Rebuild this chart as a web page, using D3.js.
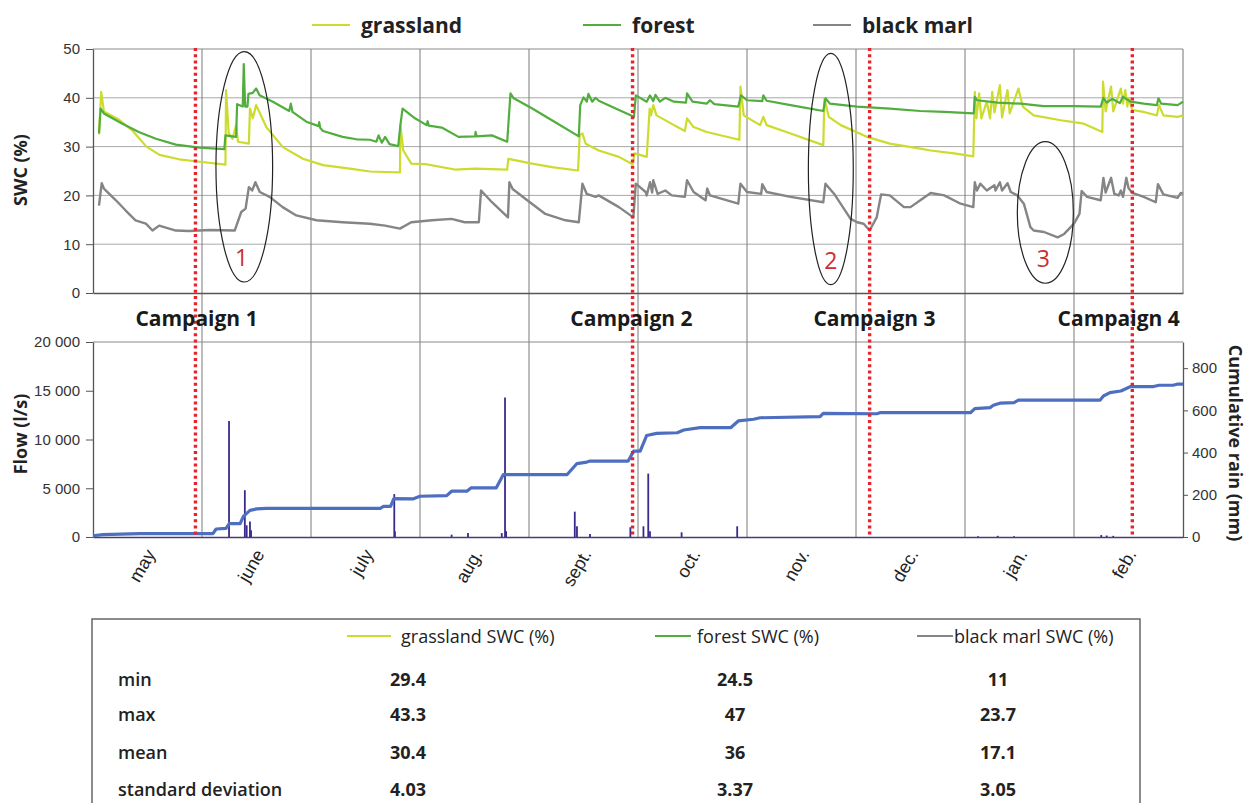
<!DOCTYPE html>
<html>
<head>
<meta charset="utf-8">
<script src="https://cdn.jsdelivr.net/npm/d3@7/dist/d3.min.js"></script>
<style>
  html, body { margin: 0; padding: 0; background: #fff; }
  svg { display: block; font-family: 'Open Sans', 'Noto Sans', sans-serif; }
</style>
</head>
<body>
<svg id="chart" width="1250" height="803"></svg>
<script>
// Soil water content + flow / cumulative rain, May -> Feb
// x values are month positions (0 = start of May, 10 = end of Feb)

const months = ['may', 'june', 'july', 'aug.', 'sept.', 'oct.', 'nov.', 'dec.', 'jan.', 'feb.'];
const swcTicks = [0, 10, 20, 30, 40, 50];
const flowTicks = [0, 5000, 10000, 15000, 20000];
const rainTicks = [0, 200, 400, 600, 800];

const grassland = [
  [0.055, 32.5], [0.075, 41.2], [0.10, 37.2], [0.24, 35.5], [0.365, 33.2], [0.49, 30.0], [0.61, 28.3],
  [0.79, 27.4], [0.98, 26.9], [1.215, 26.3], [1.221, 41.6], [1.245, 32.7], [1.28, 31.6], [1.313, 34.4],
  [1.33, 31.0], [1.43, 30.6], [1.44, 37.8], [1.466, 35.8], [1.497, 38.5], [1.59, 34.0], [1.742, 29.9],
  [1.926, 27.5], [2.11, 26.2], [2.356, 25.5], [2.54, 24.9], [2.68, 24.8], [2.816, 24.7], [2.82, 34.4],
  [2.847, 29.2], [2.92, 26.5], [3.05, 26.4], [3.32, 25.3], [3.506, 25.5], [3.80, 25.3], [3.81, 27.5],
  [4.03, 26.5], [4.21, 25.8], [4.45, 25.1], [4.465, 32.3], [4.49, 32.7], [4.52, 30.6], [4.64, 29.2],
  [4.825, 27.9], [4.95, 26.4], [4.97, 28.6], [5.08, 27.9], [5.107, 37.8], [5.12, 36.4], [5.14, 38.5],
  [5.17, 36.4], [5.33, 34.4], [5.43, 33.2], [5.45, 35.8], [5.51, 34.0], [5.63, 33.0], [5.93, 31.4],
  [5.94, 42.3], [5.97, 36.4], [6.12, 34.4], [6.15, 36.1], [6.18, 34.4], [6.40, 32.7], [6.70, 30.3],
  [6.71, 39.9], [6.75, 36.1], [6.86, 34.4], [7.10, 32.0], [7.31, 30.6], [7.59, 29.6], [7.685, 29.2],
  [7.90, 28.6], [8.076, 28.0], [8.09, 41.2], [8.105, 35.8], [8.13, 40.9], [8.15, 35.8], [8.20, 39.2],
  [8.23, 35.8], [8.25, 41.2], [8.27, 37.0], [8.32, 42.6], [8.34, 36.0], [8.39, 41.6], [8.41, 36.8],
  [8.49, 41.9], [8.53, 38.2], [8.63, 36.4], [8.88, 35.4], [9.09, 34.7], [9.26, 33.0], [9.266, 43.3],
  [9.29, 37.2], [9.34, 42.3], [9.36, 37.2], [9.43, 41.9], [9.45, 38.8], [9.47, 41.6], [9.49, 38.2],
  [9.50, 40.0], [9.535, 37.5], [9.64, 37.1], [9.76, 36.4], [9.78, 38.5], [9.82, 36.4], [9.95, 36.1],
  [10.0, 36.4]
];

const forest = [
  [0.055, 32.7], [0.07, 37.8], [0.10, 36.8], [0.27, 34.7], [0.42, 33.0], [0.577, 31.6], [0.76, 30.4],
  [0.975, 29.8], [1.205, 29.5], [1.215, 32.3], [1.313, 32.0], [1.322, 38.7], [1.374, 38.2], [1.383, 46.9],
  [1.396, 38.2], [1.417, 38.2], [1.426, 40.8], [1.466, 41.0], [1.497, 41.9], [1.528, 40.5], [1.65, 39.2],
  [1.80, 37.3], [1.815, 38.8], [1.83, 37.1], [1.957, 35.1], [2.07, 34.2], [2.075, 35.0], [2.085, 33.8],
  [2.11, 33.2], [2.29, 32.0], [2.417, 31.5], [2.54, 31.4], [2.60, 31.0], [2.62, 32.3], [2.65, 30.8],
  [2.68, 32.0], [2.72, 30.5], [2.80, 30.1], [2.82, 34.4], [2.84, 37.8], [2.954, 35.8], [3.06, 34.4],
  [3.07, 35.2], [3.08, 34.3], [3.20, 33.9], [3.353, 32.0], [3.506, 32.1], [3.51, 33.0], [3.52, 32.1],
  [3.66, 32.3], [3.80, 31.0], [3.83, 40.9], [3.86, 39.9], [4.03, 37.8], [4.21, 35.4], [4.457, 32.1],
  [4.47, 38.5], [4.50, 40.1], [4.53, 39.2], [4.545, 40.8], [4.58, 39.2], [4.61, 40.0], [4.64, 39.4],
  [4.825, 37.5], [4.963, 36.1], [4.98, 40.5], [5.08, 39.2], [5.11, 40.5], [5.14, 39.3], [5.16, 40.6],
  [5.20, 39.2], [5.25, 40.0], [5.33, 39.2], [5.44, 39.0], [5.45, 40.9], [5.50, 39.2], [5.63, 38.8],
  [5.66, 39.5], [5.70, 38.7], [5.92, 38.2], [5.945, 40.5], [6.0, 39.5], [6.14, 39.3], [6.15, 40.5],
  [6.18, 39.4], [6.40, 38.5], [6.70, 37.3], [6.72, 39.9], [6.76, 38.8], [7.01, 38.2], [7.31, 37.8],
  [7.59, 37.3], [7.81, 37.1], [8.08, 36.8], [8.09, 40.2], [8.11, 39.5], [8.30, 39.0], [8.51, 38.8],
  [8.72, 38.3], [9.0, 38.3], [9.245, 38.2], [9.27, 40.0], [9.30, 39.0], [9.35, 39.8], [9.42, 38.9],
  [9.45, 40.2], [9.52, 39.2], [9.64, 38.8], [9.76, 38.5], [9.775, 39.9], [9.80, 38.8], [9.95, 38.5],
  [10.0, 39.2]
];

const blackMarl = [
  [0.055, 17.9], [0.08, 22.5], [0.10, 21.4], [0.21, 19.0], [0.30, 16.9], [0.39, 14.9], [0.485, 14.2],
  [0.546, 12.8], [0.607, 13.8], [0.76, 12.8], [0.88, 12.7], [1.07, 12.9], [1.30, 12.8], [1.36, 16.6],
  [1.40, 17.3], [1.43, 21.7], [1.46, 21.0], [1.49, 22.7], [1.53, 20.7], [1.62, 19.7], [1.74, 17.6],
  [1.865, 15.9], [2.05, 14.9], [2.29, 14.5], [2.54, 14.2], [2.68, 13.8], [2.816, 13.2], [2.92, 14.5],
  [3.11, 14.9], [3.29, 15.2], [3.41, 14.5], [3.54, 14.5], [3.56, 21.0], [3.66, 18.6], [3.807, 15.5],
  [3.82, 22.7], [3.85, 21.3], [3.966, 19.3], [4.15, 16.2], [4.334, 14.9], [4.457, 14.5], [4.49, 22.4],
  [4.53, 20.3], [4.61, 19.7], [4.64, 20.0], [4.825, 17.6], [4.957, 15.5], [4.98, 22.4], [5.07, 20.7],
  [5.08, 20.0], [5.11, 22.7], [5.13, 20.6], [5.14, 23.1], [5.18, 20.3], [5.25, 21.0], [5.31, 20.0],
  [5.43, 19.7], [5.45, 23.1], [5.51, 20.7], [5.62, 19.0], [5.635, 21.4], [5.66, 20.0], [5.92, 18.3],
  [5.94, 22.4], [6.0, 20.7], [6.13, 20.3], [6.14, 22.3], [6.18, 20.7], [6.40, 19.7], [6.70, 18.6],
  [6.72, 22.4], [6.80, 20.3], [6.95, 15.2], [7.01, 14.5], [7.07, 14.2], [7.125, 12.8], [7.19, 15.5],
  [7.23, 20.2], [7.31, 20.0], [7.44, 17.6], [7.50, 17.6], [7.59, 19.0], [7.685, 20.5], [7.81, 20.0],
  [7.96, 18.3], [8.076, 17.6], [8.09, 22.7], [8.11, 21.0], [8.14, 22.4], [8.20, 21.0], [8.27, 22.1],
  [8.28, 21.0], [8.32, 22.7], [8.34, 21.0], [8.39, 22.5], [8.42, 20.7], [8.48, 20.0], [8.54, 18.3],
  [8.60, 13.5], [8.63, 12.8], [8.725, 12.5], [8.85, 11.4], [8.91, 12.1], [9.0, 14.2], [9.05, 16.2],
  [9.07, 20.9], [9.12, 19.7], [9.245, 19.0], [9.27, 23.6], [9.29, 20.6], [9.34, 23.6], [9.37, 20.3],
  [9.41, 20.0], [9.43, 21.0], [9.45, 19.7], [9.48, 23.6], [9.50, 21.5], [9.535, 20.5], [9.64, 19.7],
  [9.75, 18.6], [9.77, 22.3], [9.82, 20.2], [9.95, 19.5], [9.98, 20.5], [10.0, 20.3]
];

// cumulative rain (mm)
const rain = [
  [0, 6], [0.09, 11], [0.43, 16], [1.10, 16], [1.13, 38], [1.22, 41], [1.25, 63], [1.35, 63], [1.38, 98],
  [1.44, 126], [1.50, 133], [1.59, 136], [2.635, 136], [2.665, 145], [2.73, 145], [2.76, 182], [2.94, 181],
  [3.0, 193], [3.245, 196], [3.29, 217], [3.43, 217], [3.47, 233], [3.70, 233], [3.765, 296], [4.35, 296],
  [4.44, 348], [4.53, 355], [4.56, 360], [4.91, 360], [4.96, 407], [5.02, 407], [5.08, 481], [5.17, 491],
  [5.36, 494], [5.42, 507], [5.57, 518], [5.85, 518], [5.92, 550], [6.06, 558], [6.12, 565], [6.67, 570],
  [6.70, 586], [7.19, 584], [7.22, 589], [8.05, 589], [8.09, 608], [8.23, 613], [8.26, 624], [8.32, 634],
  [8.45, 637], [8.49, 649], [9.24, 649], [9.27, 668], [9.33, 684], [9.43, 692], [9.52, 713], [9.73, 713],
  [9.78, 719], [9.91, 719], [9.945, 724], [10.0, 724]
];

// flow peaks (l/s)
const flowPeaks = [
  [1.248, 11900], [1.393, 4800], [1.41, 1200], [1.44, 1600], [1.45, 700], [2.764, 4400], [2.77, 600],
  [3.29, 240], [3.44, 400], [3.75, 400], [3.78, 14300], [3.79, 600], [4.42, 2600], [4.44, 1100],
  [4.56, 300], [4.93, 1000], [5.05, 1100], [5.094, 6500], [5.11, 600], [5.40, 480], [5.91, 1100],
  [8.12, 80], [8.30, 120], [8.45, 80], [9.25, 200], [9.30, 150], [9.36, 120]
];

const campaigns = [0.94, 4.95, 7.125, 9.535];
const campaignNames = ['Campaign 1', 'Campaign 2', 'Campaign 3', 'Campaign 4'];
const campaignLabelAt = [0.95, 4.94, 7.17, 9.41];

// highlighted zones: centre (month, swc), half axes (month, swc), number position
const zones = [
  { n: '1', cx: 1.388, cy: 25.85, rx: 0.26, ry: 23.6, lx: 1.364, ly: 7.4 },
  { n: '2', cx: 6.769, cy: 25.4, rx: 0.206, ry: 23.7, lx: 6.768, ly: 6.7 },
  { n: '3', cx: 8.737, cy: 16.5, rx: 0.257, ry: 14.5, lx: 8.718, ly: 7.1 }
];

const seriesNames = ['grassland', 'forest', 'black marl'];
const seriesColors = ['#cbdc2e', '#52ad3f', '#858585'];

const statRows = ['min', 'max', 'mean', 'standard deviation'];
const grasslandStats = [29.4, 43.3, 30.4, 4.03];
const forestStats = [24.5, 47, 36, 3.37];
const blackMarlStats = [11, 23.7, 17.1, 3.05];

(function () {
  const svg = d3.select('#chart');
  const left = 93, right = 1183;
  const topY0 = 49, topY1 = 293;
  const botY0 = 342, botY1 = 537;

  const x = d3.scaleLinear().domain([0, 10]).range([left, right]);
  const ySwc = d3.scaleLinear().domain([0, 50]).range([topY1, topY0]);
  const yFlow = d3.scaleLinear().domain([0, 20000]).range([botY1, botY0]);
  const yRain = d3.scaleLinear().domain([0, 924]).range([botY1, botY0]);

  const spaceFmt = d3.formatLocale({ decimal: '.', thousands: ' ', grouping: [3], currency: ['', ''] }).format(',');

  // gridlines
  svg.append('g').selectAll('line').data(swcTicks.slice(1, -1)).join('line')
    .attr('x1', left).attr('x2', right)
    .attr('y1', d => ySwc(d)).attr('y2', d => ySwc(d))
    .attr('stroke', '#a8a8a8').attr('stroke-width', 1);
  svg.append('g').selectAll('line').data(d3.range(1, 10)).join('line')
    .attr('x1', d => x(d)).attr('x2', d => x(d))
    .attr('y1', topY0).attr('y2', botY1)
    .attr('stroke', '#7a7a7a').attr('stroke-width', 1);

  // frame lines
  const frame = svg.append('g').attr('stroke', '#8a8a8a').attr('stroke-width', 1.2);
  frame.append('line').attr('x1', left).attr('x2', right).attr('y1', topY0).attr('y2', topY0);
  frame.append('line').attr('x1', right).attr('x2', right).attr('y1', topY0).attr('y2', topY1);
  frame.append('line').attr('x1', left).attr('x2', right).attr('y1', botY0).attr('y2', botY0);

  function styleAxis(g) {
    g.select('.domain').attr('stroke', '#555').attr('stroke-width', 1.3);
    g.selectAll('.tick line').attr('stroke', '#555');
    g.selectAll('.tick text').attr('fill', '#333').style('font-size', '15px');
  }

  svg.append('g').attr('transform', `translate(${left},0)`)
    .call(d3.axisLeft(ySwc).tickValues(swcTicks).tickSize(7).tickPadding(6).tickSizeOuter(0))
    .call(styleAxis);
  svg.append('g').attr('transform', `translate(0,${topY1})`)
    .call(d3.axisBottom(x).tickValues([]).tickSizeOuter(0))
    .call(styleAxis);

  svg.append('g').attr('transform', `translate(${left},0)`)
    .call(d3.axisLeft(yFlow).tickValues(flowTicks).tickFormat(spaceFmt).tickSize(7).tickPadding(6).tickSizeOuter(0))
    .call(styleAxis);
  svg.append('g').attr('transform', `translate(${right},0)`)
    .call(d3.axisRight(yRain).tickValues(rainTicks).tickSize(5).tickPadding(4).tickSizeOuter(0))
    .call(styleAxis);

  const monthAxis = svg.append('g').attr('transform', `translate(0,${botY1})`)
    .call(d3.axisBottom(x).tickValues(d3.range(10).map(i => i + 0.5))
      .tickFormat((d, i) => months[i]).tickSize(0).tickSizeOuter(0))
    .call(styleAxis);
  monthAxis.select('.domain').attr('stroke', '#4a3d74');
  monthAxis.selectAll('.tick text')
    .attr('x', 0).attr('y', 0).attr('dy', 0)
    .attr('text-anchor', 'end')
    .attr('transform', 'translate(8,17) rotate(-60)')
    .attr('fill', '#222')
    .style('font-size', '18px');

  // axis titles
  svg.append('text').attr('transform', 'translate(27,170) rotate(-90)')
    .attr('text-anchor', 'middle').attr('font-weight', 700).attr('font-size', 18).attr('fill', '#222')
    .text('SWC (%)');
  svg.append('text').attr('transform', 'translate(27,434) rotate(-90)')
    .attr('text-anchor', 'middle').attr('font-weight', 700).attr('font-size', 18).attr('fill', '#222')
    .text('Flow (l/s)');
  svg.append('text').attr('transform', 'translate(1229,443) rotate(90)')
    .attr('text-anchor', 'middle').attr('font-weight', 700).attr('font-size', 18).attr('fill', '#222')
    .text('Cumulative rain (mm)');

  // flow peaks
  svg.append('g').selectAll('line').data(flowPeaks).join('line')
    .attr('x1', d => x(d[0])).attr('x2', d => x(d[0]))
    .attr('y1', yFlow(0)).attr('y2', d => yFlow(d[1]))
    .attr('stroke', '#3a2a8c').attr('stroke-width', 1.8);

  // cumulative rain
  svg.append('path').datum(rain)
    .attr('fill', 'none').attr('stroke', '#4e6fc0').attr('stroke-width', 3.2)
    .attr('stroke-linejoin', 'round')
    .attr('d', d3.line().x(d => x(d[0])).y(d => yRain(d[1])));

  // SWC lines
  const swcLine = d3.line().x(d => x(d[0])).y(d => ySwc(d[1]));
  [blackMarl, grassland, forest].forEach((series, i) => {
    const idx = [2, 0, 1][i];
    svg.append('path').datum(series)
      .attr('fill', 'none').attr('stroke', seriesColors[idx])
      .attr('stroke-width', idx === 2 ? 2.4 : 2.2)
      .attr('stroke-linejoin', 'round')
      .attr('d', swcLine);
  });

  // campaign markers
  svg.append('g').selectAll('line').data(campaigns).join('line')
    .attr('x1', d => x(d)).attr('x2', d => x(d))
    .attr('y1', topY0 - 1).attr('y2', botY1)
    .attr('stroke', '#e8232b').attr('stroke-width', 3.4).attr('stroke-dasharray', '3,3.2');
  svg.append('g').selectAll('text').data(campaignNames).join('text')
    .attr('x', (d, i) => x(campaignLabelAt[i])).attr('y', 326)
    .attr('text-anchor', 'middle').attr('font-weight', 700).attr('font-size', 21).attr('fill', '#1a1a1a')
    .text(d => d);

  // zones
  const zg = svg.append('g');
  zg.selectAll('ellipse').data(zones).join('ellipse')
    .attr('cx', d => x(d.cx)).attr('cy', d => ySwc(d.cy))
    .attr('rx', d => x(d.cx + d.rx) - x(d.cx)).attr('ry', d => ySwc(d.cy - d.ry) - ySwc(d.cy))
    .attr('fill', 'none').attr('stroke', '#222').attr('stroke-width', 1.2);
  zg.selectAll('text').data(zones).join('text')
    .attr('x', d => x(d.lx)).attr('y', d => ySwc(d.ly))
    .attr('text-anchor', 'middle').attr('dominant-baseline', 'central')
    .attr('font-size', 23).attr('fill', '#c9302c')
    .text(d => d.n);

  // top legend
  const legendX = [312, 583, 813];
  const lg = svg.append('g').selectAll('g').data(seriesNames).join('g')
    .attr('transform', (d, i) => `translate(${legendX[i]},25)`);
  lg.append('line').attr('x1', 0).attr('x2', 38).attr('y1', 0).attr('y2', 0)
    .attr('stroke', (d, i) => seriesColors[i]).attr('stroke-width', 2.2);
  lg.append('text').attr('x', 49).attr('y', 0).attr('dominant-baseline', 'central')
    .attr('font-weight', 700).attr('font-size', 21).attr('fill', '#222')
    .text(d => d);

  // statistics table
  const tbl = svg.append('g');
  tbl.append('rect').attr('x', 92).attr('y', 619).attr('width', 1048).attr('height', 220)
    .attr('fill', 'none').attr('stroke', '#666').attr('stroke-width', 1.5);
  const headX = [347, 655, 917];
  const head = tbl.selectAll('g.head').data(seriesNames).join('g').attr('class', 'head')
    .attr('transform', (d, i) => `translate(${headX[i]},636)`);
  head.append('line').attr('x1', 0).attr('x2', (d, i) => i === 0 ? 44 : 36).attr('y1', 0).attr('y2', 0)
    .attr('stroke', (d, i) => seriesColors[i]).attr('stroke-width', 2.2);
  head.append('text').attr('x', (d, i) => i === 2 ? 37 : (i === 0 ? 54 : 42)).attr('y', 0)
    .attr('dominant-baseline', 'central')
    .attr('font-size', 18).attr('fill', '#222')
    .text(d => `${d} SWC (%)`);

  const rowY = [679, 714, 752, 789];
  tbl.selectAll('text.rowlab').data(statRows).join('text').attr('class', 'rowlab')
    .attr('x', 118).attr('y', (d, i) => rowY[i]).attr('dominant-baseline', 'central')
    .attr('font-size', 18).attr('font-weight', 600).attr('fill', '#222')
    .text(d => d);
  const colX = [408, 735, 998];
  [grasslandStats, forestStats, blackMarlStats].forEach((vals, c) => {
    tbl.selectAll(`text.c${c}`).data(vals).join('text').attr('class', `c${c}`)
      .attr('x', colX[c]).attr('y', (d, i) => rowY[i]).attr('dominant-baseline', 'central')
      .attr('text-anchor', 'middle').attr('font-size', 18).attr('font-weight', 700).attr('fill', '#222')
      .text(d => String(d));
  });
})();
</script>
</body>
</html>
